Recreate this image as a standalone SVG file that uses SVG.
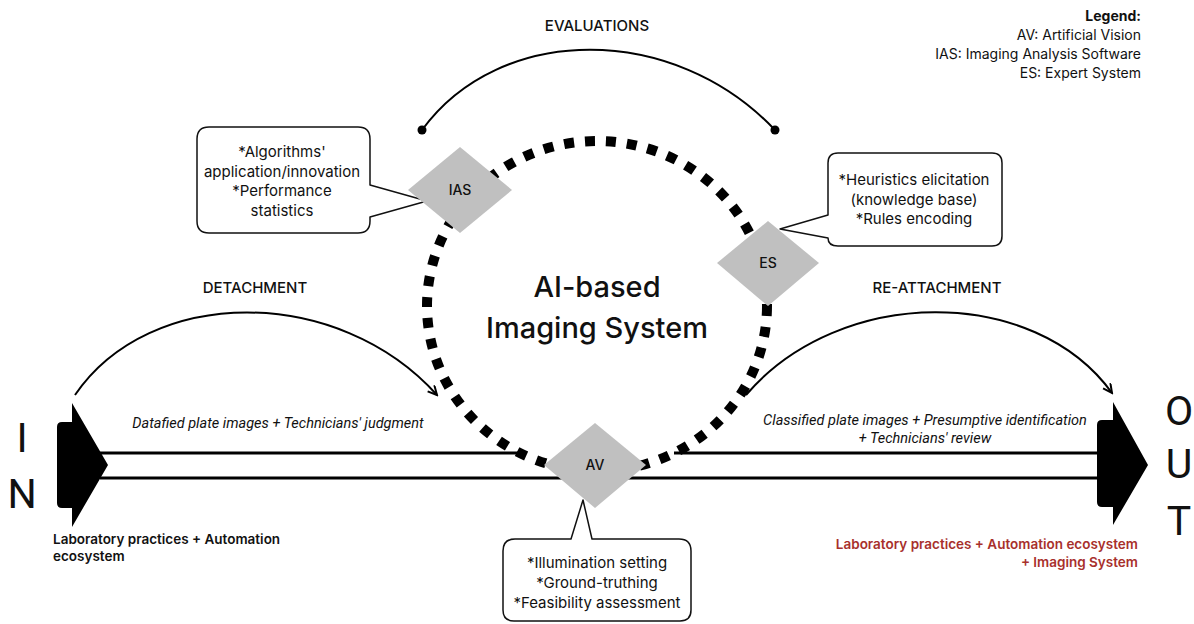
<svg xmlns="http://www.w3.org/2000/svg" width="1194" height="624" viewBox="0 0 1194 624">
  <style>
    text { font-family: Inter, "Liberation Sans", sans-serif; fill: #111; }
    .head { font-size: 15px; font-weight: 500; text-anchor: middle; }
    .call { font-size: 15px; text-anchor: middle; }
    .flow { font-family: Roboto, "Liberation Sans", sans-serif; font-size: 14.5px; font-style: italic; text-anchor: middle; }
    .lab { font-size: 13.5px; font-weight: 600; }
    .red { font-size: 13.5px; font-weight: 600; fill: #a8302c; text-anchor: end; }
    .leg { font-size: 14px; text-anchor: end; }
    .big { font-family: Roboto, "Liberation Sans", sans-serif; font-size: 41px; text-anchor: middle; }
    .title { font-size: 29px; font-weight: 500; text-anchor: middle; }
    .dlab { font-size: 14px; font-weight: 500; text-anchor: middle; }
    .dia { fill: #c0c0c0; }
    .bubble { fill: #fff; stroke: #111; stroke-width: 1.5; stroke-linejoin: round; }
    .arc { fill: none; stroke: #000; stroke-width: 2; }
    .rail { stroke: #000; stroke-width: 3; fill: none; }
  </style>
  <defs>
    <marker id="arr" markerWidth="12" markerHeight="12" refX="10" refY="5" orient="auto" markerUnits="userSpaceOnUse">
      <path d="M1,0.5 L10,5 L1,9.5" fill="none" stroke="#000" stroke-width="2"/>
    </marker>
    <marker id="dot" markerWidth="10" markerHeight="10" refX="5" refY="5" markerUnits="userSpaceOnUse">
      <circle cx="5" cy="5" r="4.5" fill="#000"/>
    </marker>
  </defs>
  <rect width="1194" height="624" fill="#fff"/>

  <g id="connectors">
    <line class="rail" x1="100" y1="453" x2="520" y2="453"/>
    <line class="rail" x1="674" y1="453" x2="1100" y2="453"/>
    <line class="rail" x1="100" y1="478" x2="1100" y2="478"/>
    <path class="arc" d="M422,130 C500,23 674,23 775,130" marker-start="url(#dot)" marker-end="url(#dot)"/>
    <path class="arc" d="M75,395 C150,285 338,285 437,395" marker-end="url(#arr)"/>
    <path class="arc" d="M746,395 C840,285 1034,285 1112,393" marker-end="url(#arr)"/>
  </g>

  <g id="system">
    <ellipse cx="597" cy="306" rx="170" ry="165" fill="none" stroke="#000" stroke-width="10" stroke-dasharray="10 11"/>
    <text class="title" x="597" y="297">AI-based</text>
    <text class="title" x="597" y="338">Imaging System</text>
  </g>

  <g id="in">
    <path d="M62,422 H72 V403 L108,465 L72,527 V508 H62 Q57,508 57,503 V427 Q57,422 62,422 Z" fill="#000"/>
    <text class="big" x="22" y="452">I</text>
    <text class="big" x="22" y="508">N</text>
  </g>

  <g id="out">
    <path d="M1102,420 H1113 V402 L1148,465 L1113,525 V507 H1102 Q1097,507 1097,502 V425 Q1097,420 1102,420 Z" fill="#000"/>
    <text class="big" x="1179" y="425">O</text>
    <text class="big" x="1179" y="478">U</text>
    <text class="big" x="1179" y="535">T</text>
  </g>

  <g id="ias">
    <path class="bubble" d="M209,127 H358 Q370,127 370,139 V185 L427,201 L370,217 V221 Q370,233 358,233 H209 Q197,233 197,221 V139 Q197,127 209,127 Z"/>
    <text class="call" x="282" y="157">*Algorithms'</text>
    <text class="call" x="282" y="177">application/innovation</text>
    <text class="call" x="282" y="196">*Performance</text>
    <text class="call" x="282" y="216">statistics</text>
    <polygon class="dia" points="460,147 512,190 460,233 408,190"/>
    <text class="dlab" x="460" y="195">IAS</text>
  </g>

  <g id="es">
    <path class="bubble" d="M838,153 H992 Q1002,153 1002,163 V236 Q1002,246 992,246 H838 Q828,246 828,238 L780,229 L828,215 V163 Q828,153 838,153 Z"/>
    <text class="call" x="914" y="185">*Heuristics elicitation</text>
    <text class="call" x="914" y="205">(knowledge base)</text>
    <text class="call" x="914" y="224">*Rules encoding</text>
    <polygon class="dia" points="768,221 819,263 768,306 717,263"/>
    <text class="dlab" x="768" y="268">ES</text>
  </g>

  <g id="av">
    <path class="bubble" d="M515,539 H571 L583,500 L592,539 H679 Q691,539 691,551 V610 Q691,621 680,621 H514 Q503,621 503,610 V551 Q503,539 515,539 Z"/>
    <text class="call" x="597" y="568">*Illumination setting</text>
    <text class="call" x="597" y="588">*Ground-truthing</text>
    <text class="call" x="597" y="608">*Feasibility assessment</text>
    <polygon class="dia" points="595,423 646,465 595,508 544,465"/>
    <text class="dlab" x="595" y="470">AV</text>
  </g>

  <g id="labels">
    <text class="head" x="597" y="31">EVALUATIONS</text>
    <text class="head" x="255" y="293">DETACHMENT</text>
    <text class="head" x="937" y="293">RE-ATTACHMENT</text>
    <text class="flow" x="278" y="428">Datafied plate images + Technicians' judgment</text>
    <text class="flow" x="925" y="425">Classified plate images + Presumptive identification</text>
    <text class="flow" x="925" y="443">+ Technicians' review</text>
    <text class="lab" x="53" y="544">Laboratory practices + Automation</text>
    <text class="lab" x="53" y="561">ecosystem</text>
    <text class="red" x="1138" y="549">Laboratory practices + Automation ecosystem</text>
    <text class="red" x="1138" y="567">+ Imaging System</text>
  </g>

  <g id="legend">
    <text class="leg" x="1141" y="21" font-weight="700">Legend:</text>
    <text class="leg" x="1141" y="40">AV: Artificial Vision</text>
    <text class="leg" x="1141" y="59">IAS: Imaging Analysis Software</text>
    <text class="leg" x="1141" y="78">ES: Expert System</text>
  </g>
</svg>
